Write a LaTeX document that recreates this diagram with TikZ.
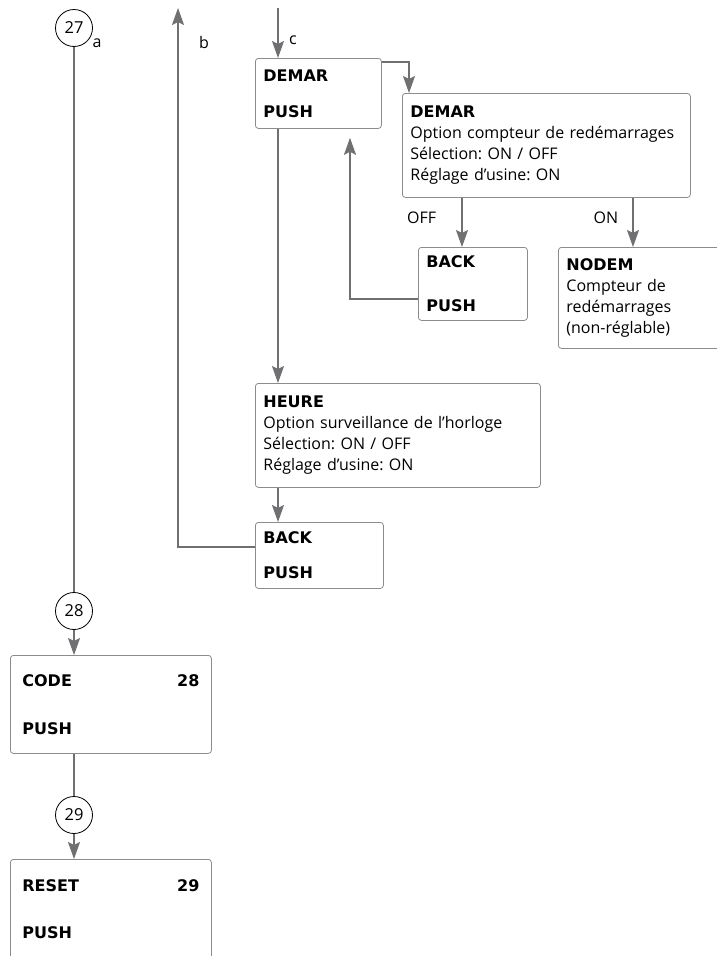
\documentclass[tikz,border=0pt]{standalone}
\usepackage{fontspec}
\setmainfont{Open Sans}[BoldFont={DejaVu Sans Bold}]
\usetikzlibrary{arrows.meta}
\frenchspacing

\definecolor{linegray}{RGB}{112,112,115}
\definecolor{boxgray}{RGB}{140,140,140}

\tikzset{
  box/.style={draw=boxgray, line width=0.8pt, rounded corners=3pt, anchor=north west,
    align=left, inner xsep=8pt, inner ysep=0pt, font=\fontsize{16}{21}\selectfont},
  num/.style={circle, draw=black, line width=0.8pt, minimum size=37pt, inner sep=0pt,
    font=\fontsize{16.5}{18}\selectfont},
  ln/.style={draw=linegray, line width=1.8pt},
  arr/.style={ln, -{Stealth[length=17pt, width=12pt, inset=3pt]}},
  lbl/.style={font=\fontsize{16}{18}\selectfont, inner sep=0pt}
}

\begin{document}
\begin{tikzpicture}[x=1pt, y=-1pt]

    \useasboundingbox (0, 0) rectangle (716, 956);

    % left column
    \node (n27) [num] at (74, 28) {27};
    \node (n28) [num] at (74, 611) {28};
    \node (n29) [num] at (74, 815) {29};
    \node (lblA) [lbl] at (97, 43) {a};

    \node (bCode) [box, inner xsep=12pt, text width=177pt, minimum height=98pt] at (10, 655)
        {\textbf{CODE}\hfill\textbf{28}\\[27pt]\textbf{PUSH}};
    \node (bReset) [box, inner xsep=12pt, text width=177pt, minimum height=100pt] at (10, 859)
        {\textbf{RESET}\hfill\textbf{29}\\[26pt]\textbf{PUSH}};

    % menu column
    \coordinate (bOut) at (178, 8);
    \coordinate (cIn) at (278, 8);
    \node (lblB) [lbl] at (204, 42) {b};
    \node (lblC) [lbl] at (293, 40) {c};

    \node (bDemar) [box, text width=110pt, minimum height=70pt] at (255, 58)
        {\textbf{DEMAR}\\[15pt]\textbf{PUSH}};
    \node (bDemarB) [box, text width=272pt, minimum height=104pt] at (402, 93)
        {\textbf{DEMAR}\\Option compteur de redémarrages\\Sélection: ON / OFF\\Réglage d'usine: ON};
    \node (bBack) [box, text width=93pt, minimum height=73pt] at (418, 247)
        {\textbf{BACK}\\[23pt]\textbf{PUSH}};
    \node (bNodem) [box, text width=184pt, minimum height=101pt] at (558, 247)
        {\textbf{NODEM}\\Compteur de\\redémarrages\\(non-réglable)};
    \node (bHeure) [box, text width=269pt, minimum height=104pt] at (255, 383)
        {\textbf{HEURE}\\Option surveillance de l'horloge\\Sélection: ON / OFF\\Réglage d'usine: ON};
    \node (bBackB) [box, text width=112pt, minimum height=66pt] at (255, 522)
        {\textbf{BACK}\\[14pt]\textbf{PUSH}};

    \path[every edge/.style=ln]
    (n27) edge (n28)
    (bCode.south -| n29) edge (n29);

    \path[every edge/.style=arr]
    (n28) edge (bCode.north -| n28)
    (n29) edge (bReset.north -| n29)
    (cIn) edge (bDemar.north -| cIn)
    ([xshift=23pt]bDemar.south west) edge ([xshift=23pt]bHeure.north west)
    ([xshift=23pt]bHeure.south west) edge ([xshift=23pt]bBackB.north west)
    ([xshift=60pt]bDemarB.south west) edge node[lbl, pos=0.4, left=25pt] {OFF} ([xshift=44pt]bBack.north west)
    ([xshift=231pt]bDemarB.south west) edge node[lbl, pos=0.4, left=14pt] {ON} ([xshift=75pt]bNodem.north west);

    \draw[arr] ([yshift=-4pt]bDemar.north east) -| ([xshift=7pt]bDemarB.north west);
    \draw[arr] ([yshift=22pt]bBack.south west) -| ([xshift=95pt, yshift=-9pt]bDemar.south west);
    \draw[arr] ([yshift=-25pt]bBackB.north west) -| (bOut);

\end{tikzpicture}
\end{document}
